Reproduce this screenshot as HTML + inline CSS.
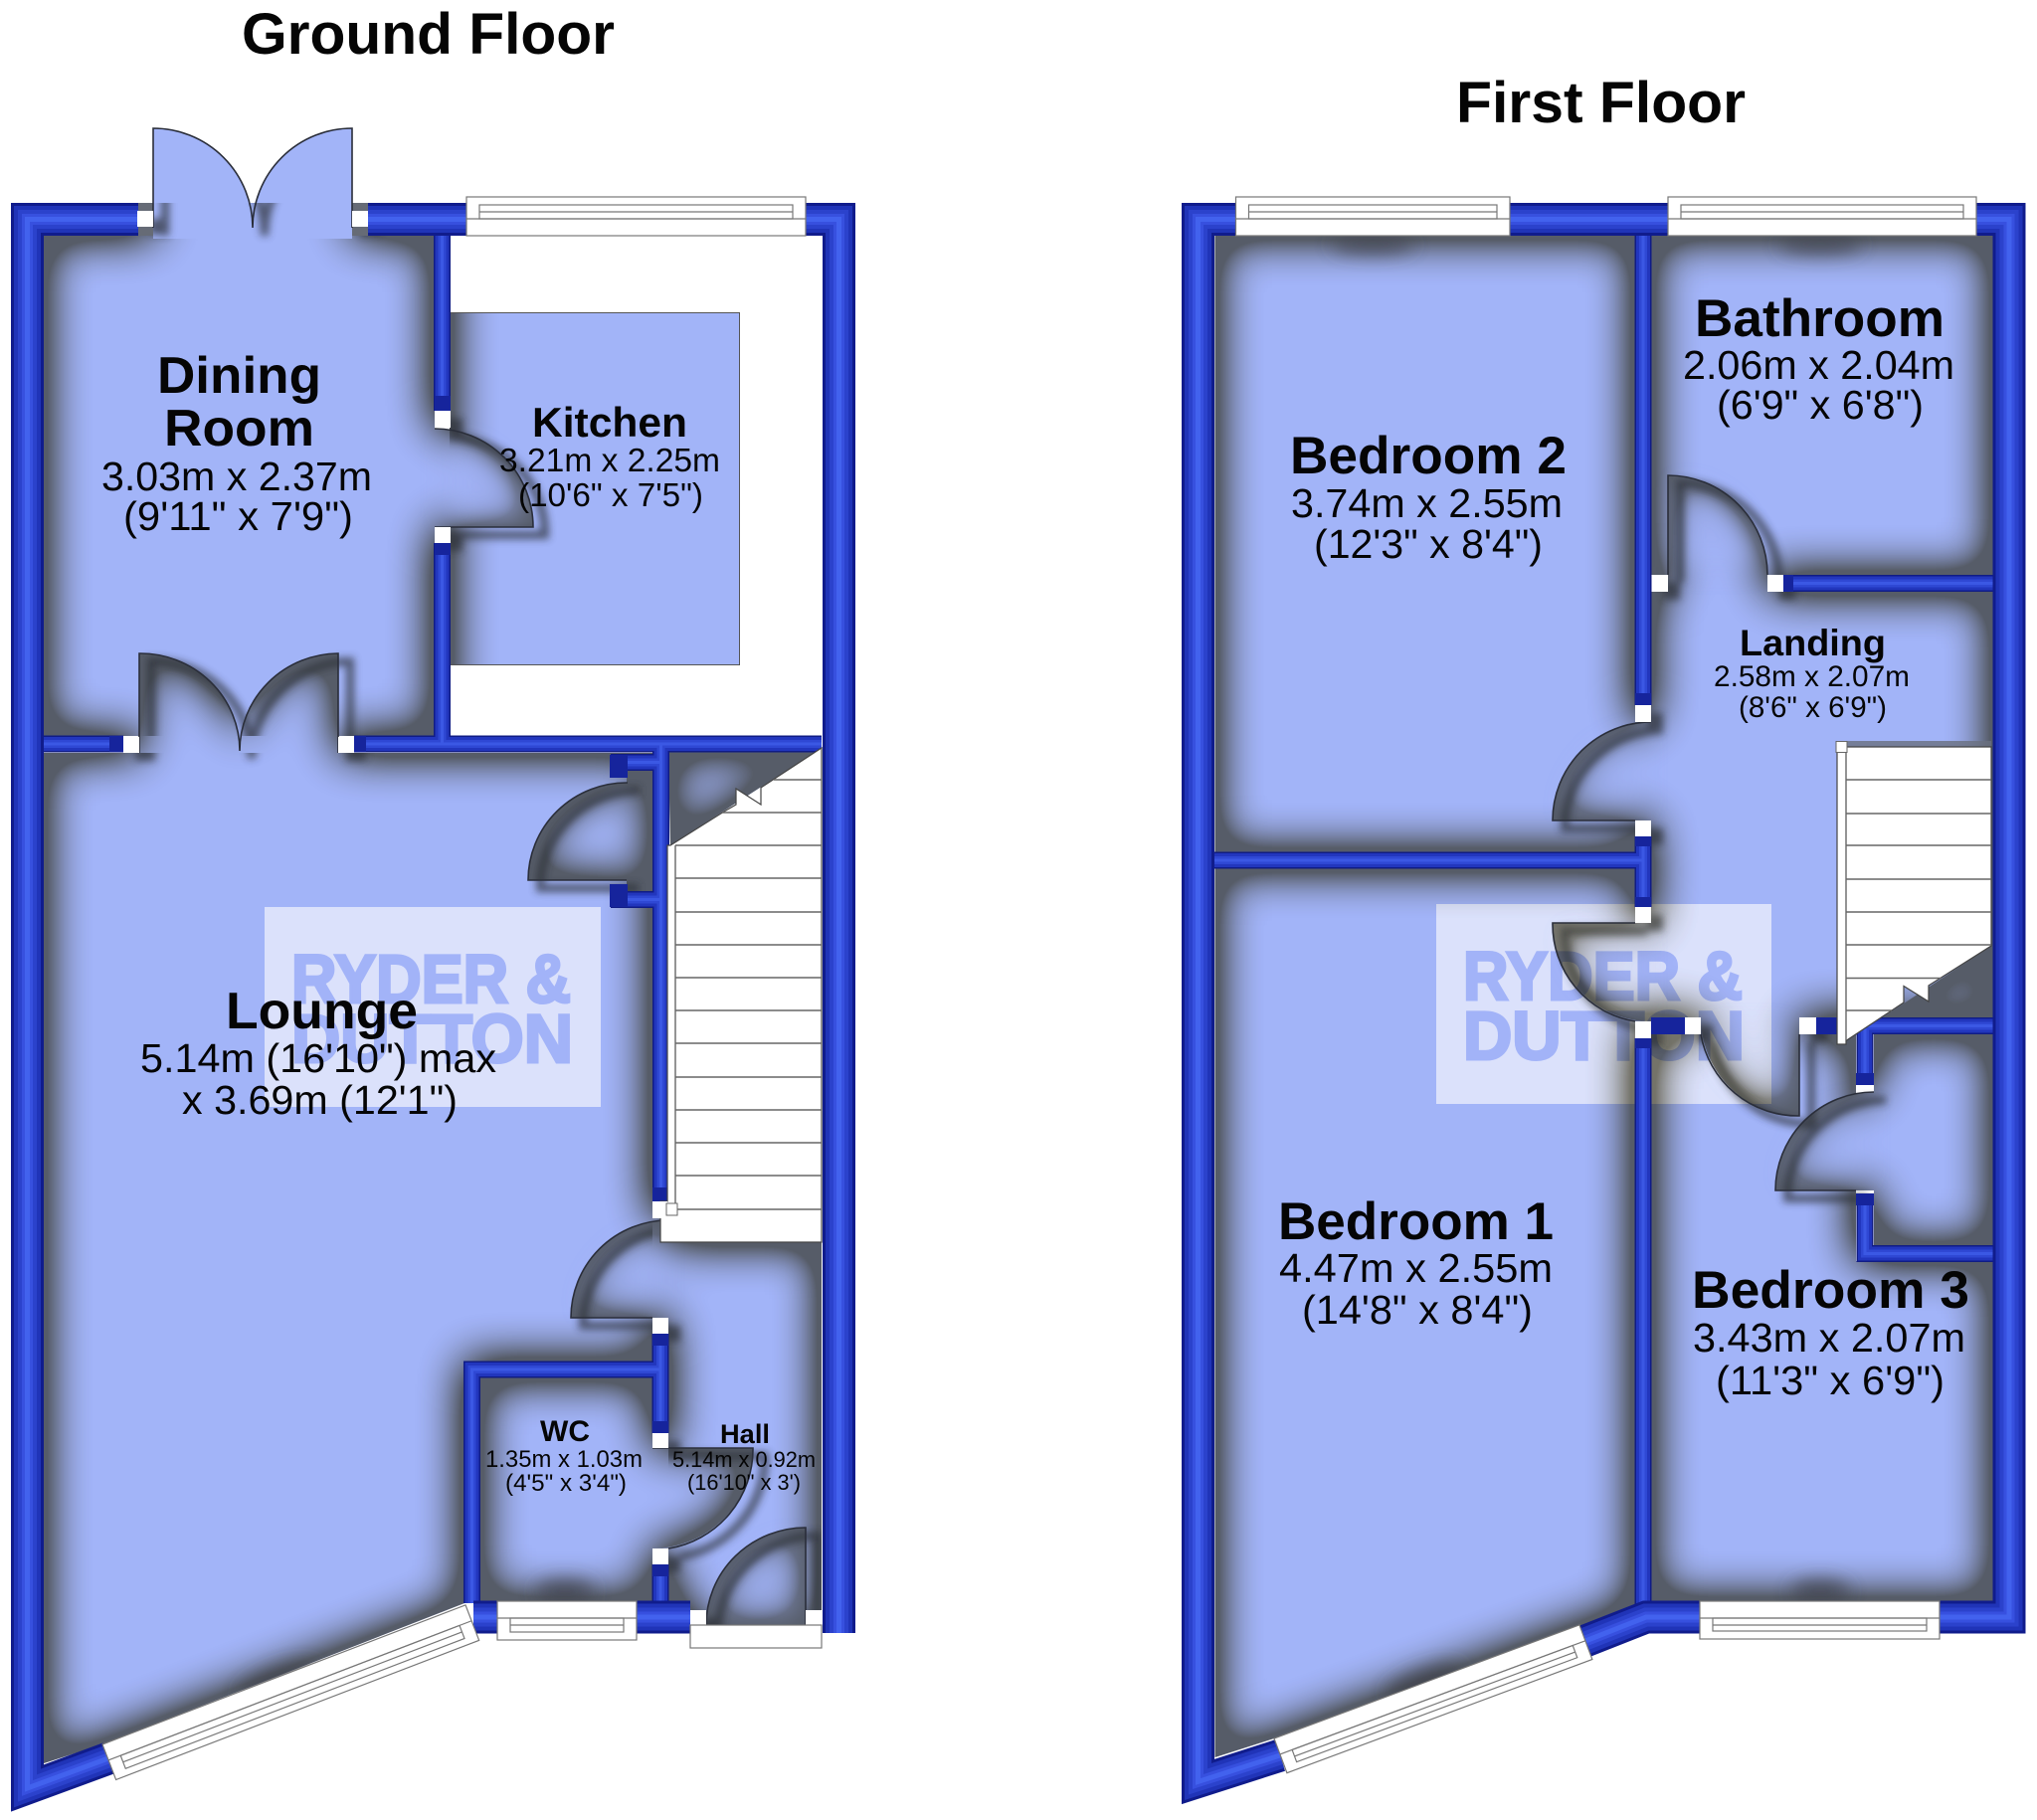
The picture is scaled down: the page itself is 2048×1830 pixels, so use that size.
<!DOCTYPE html>
<html><head><meta charset="utf-8"><title>Floor Plan</title>
<style>
html,body{margin:0;padding:0;background:#fff}
svg{display:block}
text{font-family:"Liberation Sans",sans-serif;fill:#050505}
.b{font-weight:bold}
.w{font-family:"Liberation Sans",sans-serif;font-weight:bold;fill:#bdcbfc;stroke:#bdcbfc;stroke-width:3;mix-blend-mode:multiply}
.z{fill:#a2b4f8;filter:url(#inset)}
.l{fill:none;stroke:#2a2e3a;stroke-width:1.6}
.win rect,.win line{fill:#fff;stroke:#777;stroke-width:1.2}
.win line{fill:none}
.st{stroke:#666;stroke-width:1.4}
</style></head><body>
<svg xmlns="http://www.w3.org/2000/svg" width="2048" height="1830" viewBox="0 0 2048 1830">
<defs>
<filter id="inset" filterUnits="userSpaceOnUse" x="0" y="0" width="2048" height="1830" color-interpolation-filters="sRGB">
 <feComponentTransfer in="SourceAlpha" result="inv"><feFuncA type="table" tableValues="1 0"/></feComponentTransfer>
 <feGaussianBlur in="inv" stdDeviation="24" result="bl"/>
 <feComponentTransfer in="bl" result="bl2"><feFuncA type="linear" slope="2.4" intercept="-0.02"/></feComponentTransfer>
 <feFlood flood-color="#565c68" result="fl"/>
 <feComposite in="fl" in2="bl2" operator="in" result="c"/>
 <feComposite in="c" in2="SourceAlpha" operator="in" result="sh"/>
 <feMerge><feMergeNode in="SourceGraphic"/><feMergeNode in="sh"/></feMerge>
</filter>
<filter id="bl8" filterUnits="userSpaceOnUse" x="0" y="0" width="2048" height="1830"><feGaussianBlur stdDeviation="9"/></filter>
<filter id="bl4" filterUnits="userSpaceOnUse" x="0" y="0" width="2048" height="1830"><feGaussianBlur stdDeviation="4"/></filter>
<filter id="bl12" filterUnits="userSpaceOnUse" x="0" y="0" width="2048" height="1830"><feGaussianBlur stdDeviation="12"/></filter>
<clipPath id="cDin"><rect x="0" y="204" width="560" height="560"/></clipPath>
<clipPath id="cKit"><rect x="452" y="314" width="292" height="355"/></clipPath>
<clipPath id="cDrop">
 <rect x="44" y="204" width="393" height="536"/><rect x="452" y="314" width="292" height="355"/>
 <rect x="44" y="757" width="612" height="640"/><rect x="672" y="1249" width="154" height="385"/>
 <rect x="482" y="1385" width="174" height="225"/>
 <rect x="1221" y="237" width="783" height="1373"/>
</clipPath>
<path id="outer" fill="none" stroke-miterlimit="10" d="M139 220.500H27.500V1798L109 1768M370 220.500H469M810 220.500H843.500V1642M476 1626H694M1242 220.500H1204.500V1791.500L1287 1765M1518 220.500H1677M1987 220.500H2020V1626H1950M1594 1650L1655 1626H1709"/>
<path id="inner" fill="none" d="M444.500 220V413M444.500 546V748M44 748H124M356 748H826M664.500 748V1208M614 766.500H664M614 904.500H664M474.500 1612V1377H664M664 1341V1441M664 1573V1612M1652 220V709M1652 841V912M1652 1044V1620M1204 865H1652M1794 586.500H2020M1661 1031.500H1694M1826 1031.500H1847M1875 1031.500H2020M1875 1031.500V1091M1875 1200V1260.500H2020"/>
<path id="leaves" fill="none" d="M154 229V129A100 100 0 0 1 254 229A100 100 0 0 1 354 129V229M140 757V657A100 98 0 0 1 241 755A100 98 0 0 1 340 657V757M437 431A99 99 0 0 1 536 530H437M631 787A99 98 0 0 0 531 885H630M672 1227A98 98 0 0 0 574 1325H656M656 1456H757A101 101 0 0 1 672 1557M810 1634V1536A100 98 0 0 0 710 1634M1677 578V478A100 100 0 0 1 1777 578M1660 726A99 99 0 0 0 1561 825H1644M1644 928H1561A99 99 0 0 0 1644 1027M1710 1040A99 99 0 0 0 1809 1122V1040M1884 1098A99 99 0 0 0 1785 1197H1866"/>
<g id="pil">
 <rect x="138" y="212" width="16" height="16"/><rect x="354" y="212" width="16" height="16"/>
 <rect x="437" y="413" width="16" height="17"/><rect x="437" y="530" width="16" height="16"/>
 <rect x="124" y="741" width="16" height="16"/><rect x="340" y="741" width="16" height="16"/>
 <rect x="656" y="1325" width="16" height="16"/><rect x="656" y="1441" width="16" height="15"/><rect x="656" y="1557" width="16" height="16"/>
 <rect x="694" y="1619" width="16" height="15"/><rect x="810" y="1619" width="16" height="15"/>
 <rect x="1661" y="578" width="16" height="17"/><rect x="1777" y="578" width="16" height="17"/>
 <rect x="1644" y="709" width="16" height="17"/><rect x="1644" y="825" width="16" height="16"/>
 <rect x="1644" y="912" width="16" height="16"/><rect x="1644" y="1027" width="16" height="17"/>
 <rect x="1694" y="1023" width="16" height="17"/><rect x="1809" y="1023" width="17" height="17"/>
</g>
</defs>
<rect width="2048" height="1830" fill="#fff"/>

<!-- GROUND FLOOR ZONES -->
<g clip-path="url(#cKit)"><path class="z" d="M452 200H1000V800H452Z"/></g>
<rect x="452.500" y="314.500" width="291" height="354" fill="none" stroke="#555" stroke-width="1"/>
<g clip-path="url(#cDin)"><path class="z" d="M44 237H154V100H354V237H437V431A99 99 0 0 1 536 530H437V740H340V830H140V740H44Z"/></g>
<path d="M154 240V129A100 100 0 0 1 254 229A100 100 0 0 1 354 129V240Z" fill="#a2b4f8"/>
<path class="z" d="M44 757H140V657A100 98 0 0 1 241 755A100 98 0 0 1 340 657V757H656V1225H740V1325H656V1369H467V1612L103 1754L44 1773Z"/>
<path class="z" d="M630 759H656V897H630V885H531A99 98 0 0 1 630 787Z"/>
<path class="z" d="M672 756H826V752L674 850Z"/>
<path class="z" d="M672 1249H826V1642H694V1610H672V1557H600V1456H672V1341V1325H574A98 98 0 0 1 672 1227Z"/>
<path class="z" d="M482 1385H656V1456H757A101 101 0 0 1 656 1557V1610H482Z"/>
<path class="z" d="M810 1634V1536A100 98 0 0 0 710 1634Z"/>

<!-- FIRST FLOOR ZONES -->
<path class="z" d="M1221.500 237H1644V726H1740V825H1644V857H1221.500Z"/>
<path class="z" d="M1660 237H2004V578H1777V680H1677V578H1660Z"/>
<path class="z" d="M1221.500 873H1644V928H1740V1028H1644V1614.500L1281 1748L1221.500 1767Z"/>
<path class="z" d="M1660 1040H1710V950H1809V1040H1866V1268H2004V1610H1660Z"/>
<path class="z" d="M1884 1040H2004V1253H1884V1197H1785A99 99 0 0 1 1884 1098Z"/>
<path class="z" d="M1660 595H1677V478A100 100 0 0 1 1777 578V595H2004V1023H1809V1122A99 99 0 0 1 1710 1023H1660V1027A99 99 0 0 1 1561 928H1660V825H1561A99 99 0 0 1 1660 726Z"/>
<path class="z" d="M1856 1047L2002 951V1023H1880Z"/>

<!-- soften shadow inside door swings (blurred so no seam shows at the hinge) -->
<g fill="#a2b4f8" filter="url(#bl12)">
 <path opacity=".7" d="M450 445A85 85 0 0 1 525 520H450Z"/>
 <path opacity=".7" d="M1690 490A88 88 0 0 1 1765 570H1690Z"/>
 <path opacity=".45" d="M1650 738A88 88 0 0 0 1575 815H1650Z"/>
 <path opacity=".45" d="M1650 940H1575A88 88 0 0 0 1650 1015Z"/>
 <path opacity=".45" d="M1798 1035V1108A88 88 0 0 1 1722 1035Z"/>
 <path opacity=".45" d="M1874 1187V1110A88 88 0 0 0 1797 1187Z"/>
 <path opacity=".45" d="M662 1315V1240A88 88 0 0 0 588 1315Z"/>
 <path opacity=".45" d="M800 1624V1550A88 88 0 0 0 724 1624Z"/>
</g>

<!-- window dark blobs -->
<g filter="url(#bl8)" fill="#3c4048" opacity=".75">
 <ellipse cx="568" cy="1600" rx="30" ry="12"/>
 <ellipse cx="280" cy="1692" rx="42" ry="14" transform="rotate(-21 280 1692)"/>
 <ellipse cx="1380" cy="246" rx="42" ry="9"/>
 <ellipse cx="1830" cy="246" rx="42" ry="9"/>
 <ellipse cx="1830" cy="1600" rx="30" ry="12"/>
 <ellipse cx="1432" cy="1692" rx="40" ry="13" transform="rotate(-20 1432 1692)"/>
</g>

<!-- drop shadows -->
<g clip-path="url(#cDrop)"><g transform="translate(12 8)" filter="url(#bl4)" opacity=".7">
 <use href="#leaves" stroke="#2b2e36" stroke-width="8"/>
 <use href="#pil" fill="#2b2e36"/>
</g></g>
<rect x="138" y="204" width="16" height="33" fill="#666b76"/>
<rect x="354" y="204" width="16" height="33" fill="#666b76"/>
<rect x="1857" y="745" width="145" height="6" fill="#6a7080" opacity=".8"/>

<!-- watermarks -->
<rect x="266" y="912" width="338" height="201" fill="rgb(66,51,3)" style="mix-blend-mode:color-dodge"/>
<rect x="1444" y="909" width="337" height="201" fill="rgb(66,51,3)" style="mix-blend-mode:color-dodge"/>
<text class="w" x="293" y="1008" font-size="69" textLength="281" lengthAdjust="spacingAndGlyphs">RYDER &amp;</text>
<text class="w" x="293" y="1068" font-size="69" textLength="283" lengthAdjust="spacingAndGlyphs">DUTTON</text>
<text class="w" x="1471" y="1005" font-size="69" textLength="281" lengthAdjust="spacingAndGlyphs">RYDER &amp;</text>
<text class="w" x="1471" y="1065" font-size="69" textLength="283" lengthAdjust="spacingAndGlyphs">DUTTON</text>

<!-- door lines -->
<use href="#leaves" class="l"/>

<!-- walls -->
<use href="#inner" stroke="#101c85" stroke-width="17"/>
<use href="#inner" stroke="#2236bd" stroke-width="14"/>
<use href="#inner" stroke="#2f48d4" stroke-width="8"/>
<use href="#inner" stroke="#3b58e4" stroke-width="3"/>
<use href="#outer" stroke="#101c8c" stroke-width="33"/>
<use href="#outer" stroke="#2034b8" stroke-width="27"/>
<use href="#outer" stroke="#2b42cc" stroke-width="19"/>
<use href="#outer" stroke="#3750df" stroke-width="11"/>
<use href="#outer" stroke="#4262ee" stroke-width="5"/>

<!-- dark wall ends -->
<g fill="#16249c">
 <rect x="437" y="398" width="16" height="15"/><rect x="437" y="546" width="16" height="12"/>
 <rect x="110" y="740" width="14" height="16"/><rect x="356" y="740" width="12" height="16"/>
 <rect x="613" y="759" width="18" height="23"/><rect x="613" y="889" width="18" height="23"/>
 <rect x="656" y="1341" width="16" height="12"/><rect x="656" y="1429" width="16" height="12"/>
 <rect x="656" y="1573" width="16" height="12"/><rect x="656" y="1194" width="16" height="14"/>
 <rect x="1644" y="697" width="16" height="12"/><rect x="1644" y="841" width="16" height="10"/>
 <rect x="1644" y="902" width="16" height="10"/><rect x="1644" y="1044" width="16" height="10"/>
 <rect x="1660" y="1023" width="34" height="17"/><rect x="1826" y="1023" width="21" height="17"/>
 <rect x="1866" y="1079" width="18" height="12"/><rect x="1866" y="1200" width="18" height="12"/>
 <rect x="1793" y="578" width="10" height="17"/>
</g>
<use href="#pil" fill="#fff"/>

<!-- windows -->
<g class="win">
 <g transform="translate(469 198)"><rect width="341" height="39"/><rect x="13" y="8" width="315" height="14"/><line x1="13" y1="15" x2="328" y2="15"/><line x1="0" y1="22" x2="341" y2="22"/></g>
 <g transform="translate(1242.500 198)"><rect width="275.500" height="39"/><rect x="13" y="8" width="249.500" height="14"/><line x1="13" y1="15" x2="262.500" y2="15"/><line x1="0" y1="22" x2="275.500" y2="22"/></g>
 <g transform="translate(1677 198)"><rect width="310" height="39"/><rect x="13" y="8" width="284" height="14"/><line x1="13" y1="15" x2="297" y2="15"/><line x1="0" y1="22" x2="310" y2="22"/></g>
 <g transform="translate(500 1610)"><rect width="140" height="39"/><rect x="13" y="17" width="114" height="14"/><line x1="13" y1="24" x2="127" y2="24"/><line x1="0" y1="17" x2="140" y2="17"/></g>
 <g transform="translate(1709 1610)"><rect width="241" height="38"/><rect x="13" y="17" width="215" height="13"/><line x1="13" y1="24" x2="228" y2="24"/><line x1="0" y1="17" x2="241" y2="17"/></g>
 <g transform="translate(103 1754) rotate(-21)"><rect width="391" height="38"/><rect x="13" y="17" width="365" height="14"/><line x1="13" y1="24" x2="378" y2="24"/><line x1="0" y1="17" x2="391" y2="17"/></g>
 <g transform="translate(1281 1748) rotate(-20.400)"><rect width="327.500" height="37"/><rect x="13" y="17" width="301" height="13"/><line x1="13" y1="24" x2="314" y2="24"/><line x1="0" y1="17" x2="327.500" y2="17"/></g>
 <rect x="694" y="1634" width="132" height="23"/>
</g>

<!-- ground stairs -->
<path d="M826 752L765 792V809L740 793V809L728 816L674 850H671V1208H664V1249H826Z" fill="#fff" stroke="#444" stroke-width="1.200"/>
<g class="st">
 <line x1="778" y1="784" x2="826" y2="784"/><line x1="726" y1="817" x2="826" y2="817"/>
 <line x1="679" y1="850" x2="826" y2="850"/><line x1="679" y1="883" x2="826" y2="883"/><line x1="679" y1="917" x2="826" y2="917"/><line x1="679" y1="950" x2="826" y2="950"/><line x1="679" y1="983" x2="826" y2="983"/><line x1="679" y1="1016" x2="826" y2="1016"/><line x1="679" y1="1049" x2="826" y2="1049"/><line x1="679" y1="1083" x2="826" y2="1083"/><line x1="679" y1="1116" x2="826" y2="1116"/><line x1="679" y1="1149" x2="826" y2="1149"/><line x1="679" y1="1182" x2="826" y2="1182"/><line x1="664" y1="1216" x2="826" y2="1216"/>
 <line x1="679" y1="850" x2="679" y2="1216"/>
</g>
<rect x="657" y="1208" width="14" height="17" fill="#fff"/>
<rect x="670" y="1210" width="11" height="12" fill="#fff" stroke="#666" stroke-width="1"/>

<!-- first stairs -->
<path d="M1847 1050V751H2002V951L1939 991V1007L1914 991.500V1008L1856 1046.500V1050Z" fill="#fff" stroke="#444" stroke-width="1.200"/>
<g class="st">
 <line x1="1856" y1="784" x2="2002" y2="784"/><line x1="1856" y1="818" x2="2002" y2="818"/><line x1="1856" y1="850" x2="2002" y2="850"/><line x1="1856" y1="884" x2="2002" y2="884"/><line x1="1856" y1="917" x2="2002" y2="917"/><line x1="1856" y1="950" x2="2002" y2="950"/><line x1="1856" y1="983.500" x2="1952" y2="983.500"/><line x1="1856" y1="1016" x2="1902" y2="1016"/>
 <line x1="1856" y1="751" x2="1856" y2="1046"/>
</g>
<rect x="1846" y="745.500" width="11" height="11" fill="#fff" stroke="#666" stroke-width="1"/>

<!-- labels -->
<text class="b" x="243" y="54" font-size="58.700" textLength="375" lengthAdjust="spacingAndGlyphs">Ground Floor</text>
<text class="b" x="1464" y="123" font-size="58.700" textLength="291" lengthAdjust="spacingAndGlyphs">First Floor</text>

<text class="b" x="158" y="395" font-size="52" textLength="165" lengthAdjust="spacingAndGlyphs">Dining</text>
<text class="b" x="165" y="448" font-size="52" textLength="151" lengthAdjust="spacingAndGlyphs">Room</text>
<text x="102" y="493" font-size="41" textLength="272" lengthAdjust="spacingAndGlyphs">3.03m x 2.37m</text>
<text x="124" y="533" font-size="41" textLength="231" lengthAdjust="spacingAndGlyphs">(9'11" x 7'9")</text>

<text class="b" x="535" y="439" font-size="42" textLength="156" lengthAdjust="spacingAndGlyphs">Kitchen</text>
<text x="502" y="474" font-size="33.500" textLength="222" lengthAdjust="spacingAndGlyphs">3.21m x 2.25m</text>
<text x="521" y="509" font-size="33.500" textLength="186" lengthAdjust="spacingAndGlyphs">(10'6" x 7'5")</text>

<text class="b" x="227" y="1034" font-size="52" textLength="193" lengthAdjust="spacingAndGlyphs">Lounge</text>
<text x="141" y="1078" font-size="41" textLength="358" lengthAdjust="spacingAndGlyphs">5.14m (16'10") max</text>
<text x="183" y="1120" font-size="41" textLength="277" lengthAdjust="spacingAndGlyphs">x 3.69m (12'1")</text>

<text class="b" x="543" y="1449" font-size="30" textLength="50" lengthAdjust="spacingAndGlyphs">WC</text>
<text x="488" y="1475" font-size="24" textLength="158" lengthAdjust="spacingAndGlyphs">1.35m x 1.03m</text>
<text x="508" y="1499" font-size="24" textLength="122" lengthAdjust="spacingAndGlyphs">(4'5" x 3'4")</text>

<text class="b" x="724" y="1451" font-size="27" textLength="50" lengthAdjust="spacingAndGlyphs">Hall</text>
<text x="676" y="1475" font-size="22" textLength="144" lengthAdjust="spacingAndGlyphs">5.14m x 0.92m</text>
<text x="691" y="1498" font-size="22" textLength="114" lengthAdjust="spacingAndGlyphs">(16'10" x 3')</text>

<text class="b" x="1704" y="338" font-size="52.500" textLength="251" lengthAdjust="spacingAndGlyphs">Bathroom</text>
<text x="1692" y="381" font-size="41" textLength="273" lengthAdjust="spacingAndGlyphs">2.06m x 2.04m</text>
<text x="1726" y="421" font-size="41" textLength="208" lengthAdjust="spacingAndGlyphs">(6'9" x 6'8")</text>

<text class="b" x="1297" y="476" font-size="52.500" textLength="278" lengthAdjust="spacingAndGlyphs">Bedroom 2</text>
<text x="1298" y="520" font-size="41" textLength="273" lengthAdjust="spacingAndGlyphs">3.74m x 2.55m</text>
<text x="1321" y="561" font-size="41" textLength="230" lengthAdjust="spacingAndGlyphs">(12'3" x 8'4")</text>

<text class="b" x="1749" y="659" font-size="37" textLength="147" lengthAdjust="spacingAndGlyphs">Landing</text>
<text x="1723" y="690" font-size="29.500" textLength="197" lengthAdjust="spacingAndGlyphs">2.58m x 2.07m</text>
<text x="1748" y="721" font-size="29.500" textLength="149" lengthAdjust="spacingAndGlyphs">(8'6" x 6'9")</text>

<text class="b" x="1285" y="1246" font-size="52.500" textLength="277" lengthAdjust="spacingAndGlyphs">Bedroom 1</text>
<text x="1286" y="1289" font-size="41" textLength="275" lengthAdjust="spacingAndGlyphs">4.47m x 2.55m</text>
<text x="1309" y="1331" font-size="41" textLength="232" lengthAdjust="spacingAndGlyphs">(14'8" x 8'4")</text>

<text class="b" x="1701" y="1315" font-size="52.500" textLength="279" lengthAdjust="spacingAndGlyphs">Bedroom 3</text>
<text x="1702" y="1359" font-size="41" textLength="274" lengthAdjust="spacingAndGlyphs">3.43m x 2.07m</text>
<text x="1725" y="1402" font-size="41" textLength="230" lengthAdjust="spacingAndGlyphs">(11'3" x 6'9")</text>
</svg>
</body></html>
